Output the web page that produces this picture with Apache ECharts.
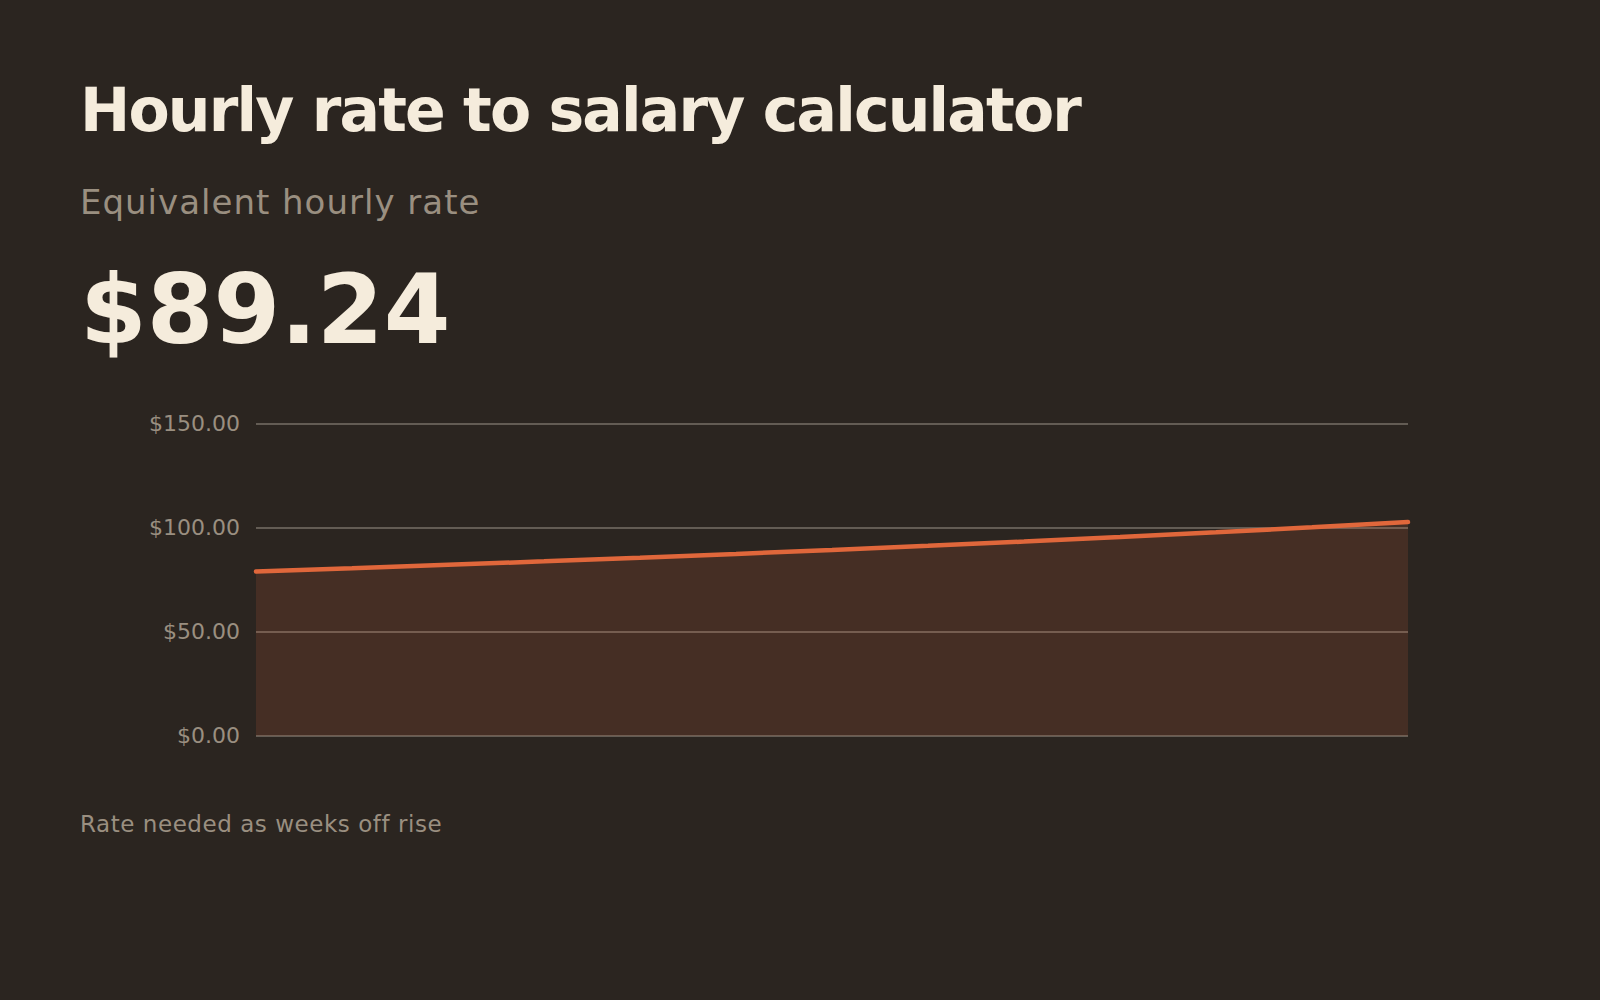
<!DOCTYPE html>
<html>
<head>
<meta charset="utf-8">
<script src="https://cdn.jsdelivr.net/npm/echarts@6/dist/echarts.min.js"></script>
<style>
html,body{margin:0;padding:0;background:#2b2520;}
#chart{width:1600px;height:1000px;}
</style>
</head>
<body>
<div id="chart"></div>
<script>
const titleText = 'Hourly rate to salary calculator';
const subtitleText = 'Equivalent hourly rate';
const headlineValue = '$89.24';
const footerText = 'Rate needed as weeks off rise';
const weeksOff = ['0','1','2','3','4','5','6','7','8','9','10','11','12'];
const hourlyRate = [78.94, 80.49, 82.10, 83.77, 85.52, 87.34, 89.24, 91.22, 93.29, 95.46, 97.73, 100.12, 102.62];
const yTicks = [0, 50, 100, 150];

const letterSpacingFor = {};
letterSpacingFor[titleText] = '-1.8px';
letterSpacingFor[subtitleText] = '1px';
letterSpacingFor[footerText] = '0.55px';

const chart = echarts.init(document.getElementById('chart'), null, {renderer: 'svg'});
const font = '"DejaVu Sans", sans-serif';
chart.setOption({
  backgroundColor: '#2b2520',
  animation: false,
  graphic: [
    {type:'text', left: 80, top: 80, style:{text: titleText, fill:'#f5ecdc', font:'bold 60px "DejaVu Sans"'}},
    {type:'text', left: 80, top: 184.8, style:{text: subtitleText, fill:'#9a8f80', font:'34px "DejaVu Sans"'}},
    {type:'text', left: 80, top: 261.5, style:{text: headlineValue, fill:'#f5ecdc', font:'bold 96px "DejaVu Sans"'}},
    {type:'text', left: 80, top: 812.4, style:{text: footerText, fill:'#9a8f80', font:'23px "DejaVu Sans"'}}
  ],
  grid: {left: 256, right: 192, top: 423.5, bottom: 264.3, containLabel: false},
  xAxis: {
    type: 'category',
    data: weeksOff,
    boundaryGap: false,
    axisLine: {show:false},
    axisTick: {show:false},
    axisLabel: {show:false},
    splitLine: {show:false}
  },
  yAxis: {
    type: 'value',
    min: yTicks[0],
    max: yTicks[yTicks.length-1],
    interval: yTicks[1]-yTicks[0],
    axisLine: {show:false},
    axisTick: {show:false},
    axisLabel: {
      color:'#9a8f80', fontSize: 22, fontFamily: font, margin: 16,
      padding: [4, 0, 0, 0],
      formatter: v => '$' + v.toFixed(2)
    },
    splitLine: {lineStyle:{color:'rgba(245,236,220,0.28)', width: 2}}
  },
  series: [{
    type: 'line',
    data: hourlyRate,
    smooth: false,
    symbol: 'none',
    lineStyle: {color:'#e0673b', width: 4.5, cap:'round'},
    areaStyle: {color:'#e0683b', opacity: 0.15},
    z: 3
  }]
});

function applySpacing(){
  document.querySelectorAll('#chart text').forEach(t => {
    const ls = letterSpacingFor[t.textContent];
    if (ls) t.style.letterSpacing = ls;
  });
}
chart.on('finished', applySpacing);
chart.on('rendered', applySpacing);
applySpacing();
setTimeout(applySpacing, 50);
setTimeout(applySpacing, 300);
</script>
</body>
</html>
